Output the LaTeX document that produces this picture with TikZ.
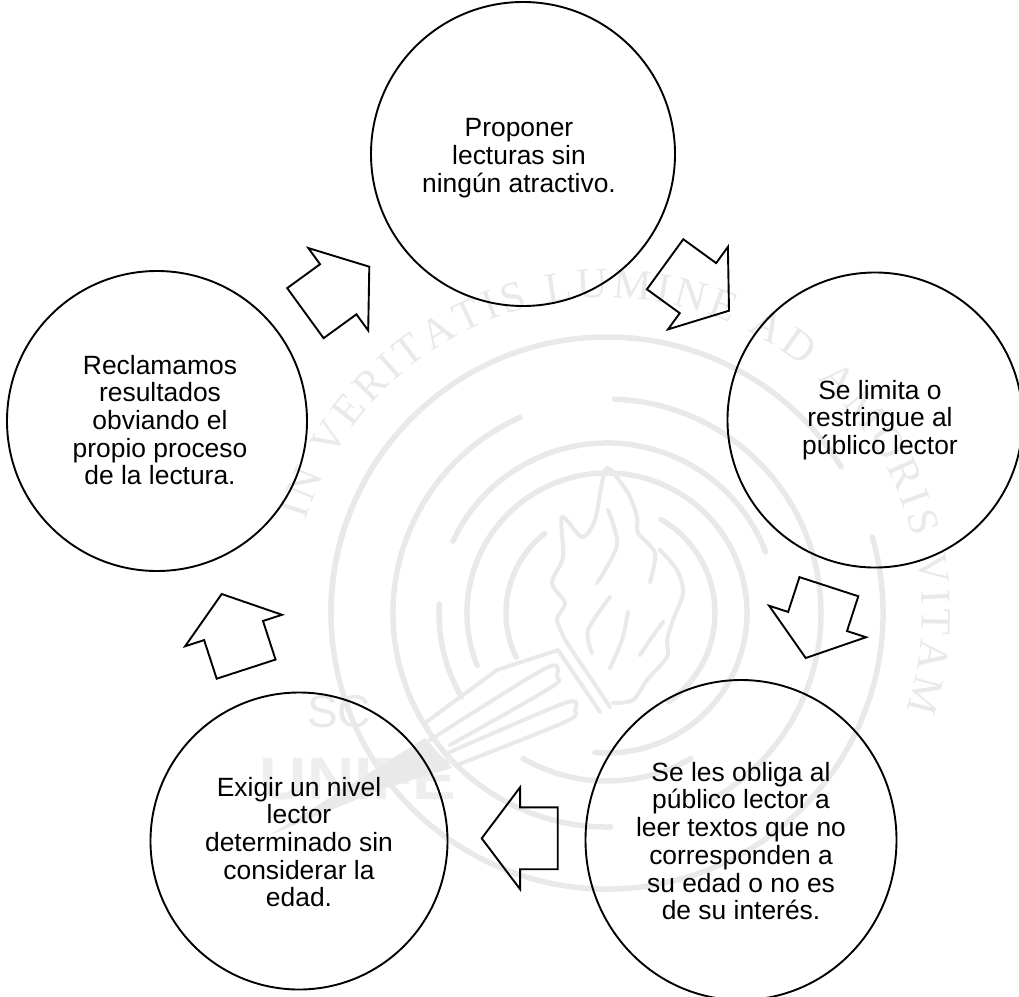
\documentclass[tikz,border=0pt]{standalone}
\usepackage{fontspec}
\setmainfont{Liberation Sans}
\newfontfamily\sealfont{Liberation Serif}
\usetikzlibrary{shapes.arrows,shapes.geometric}
\usetikzlibrary{decorations.text}
\definecolor{sealgray}{HTML}{E9E9E9}
\tikzset{
  stepcircle/.style={ellipse,draw=black,line width=1.9pt,inner sep=0pt,minimum width=#1,minimum height=#1},
  steptext/.style={align=center,font=\fontsize{26.4}{27.7}\selectfont,inner sep=0pt},
  blockarrow/.style={single arrow,draw=black,line width=1.9pt,inner xsep=0pt,inner ysep=30pt,outer sep=0pt,
    anchor=tip,minimum height=#1,single arrow head extend=20,single arrow tip angle=106},
  sealarc/.style={draw=sealgray,line width=5.5pt,line cap=round},
  sealline/.style={draw=sealgray,line width=4pt,line cap=round,line join=round}
}
\begin{document}
\begin{tikzpicture}[x=1pt,y=1pt]
\useasboundingbox (0,0) rectangle (1019,-996);
\begin{scope}
\clip (0,0) rectangle (1019,-996);
% seal in the background
\coordinate (sealc) at (607,-613);
\foreach \r/\a/\b in {276/181/32,276/16/-226,214/114/271,214/88/-62,170/155/21,140/202/-95,101/128/206,108/60/-55,168/177/210,168/240/300}{
\draw[sealarc] (sealc) ++(\a:\r) arc[start angle=\a,end angle=\b,radius=\r];
}
\path[decorate,decoration={text along path,text align=fit to path,
  text={|\sealfont\fontsize{43}{43}\selectfont\color{sealgray}|IN VERITATIS LUMINE AD AMORIS VITAM}}]
  (sealc) ++(163:315) arc[start angle=163,end angle=-18,radius=315];
\node[font=\fontsize{46}{46}\selectfont,text=sealgray,inner sep=0pt] (sealsc) at (339,-712) {SC};
\node[font=\fontsize{60}{60}\selectfont\bfseries,text=sealgray!75,inner sep=0pt,xscale=1.09] (sealname) at (358,-779) {UNIFE};
% flame
\draw[sealline] plot[smooth] coordinates {(567,-643) (557,-620) (565,-603) (552,-583) (563,-557) (562,-517) (582,-537) (595,-520) (602,-483) (608,-468) (628,-493) (637,-517) (638,-533) (655,-553) (650,-582)};
\draw[sealline] plot[smooth] coordinates {(660,-550) (677,-570) (683,-593) (673,-620) (667,-640) (667,-657) (647,-680) (633,-700) (613,-703)};
\draw[sealline] plot[smooth] coordinates {(608,-510) (617,-545) (597,-583)};
\draw[sealline] plot[smooth] coordinates {(610,-597) (588,-630) (592,-653)};
\draw[sealline] plot[smooth] coordinates {(628,-612) (622,-640) (610,-668)};
\draw[sealline] plot[smooth] coordinates {(663,-622) (650,-640) (640,-655)};
% torch
\draw[sealline] (567,-643) -- (610,-707) (558,-650) -- (600,-712);
\draw[sealline] (558,-650) -- (497,-670) -- (425,-723);
\draw[sealline] plot[smooth] coordinates {(430,-740) (546,-668) (557,-677) (550,-688) (450,-745)};
\draw[sealline] plot[smooth] coordinates {(450,-752) (565,-703) (575,-710) (565,-722) (457,-765)};
\fill[sealgray] (425,-738) -- (452,-768) -- (380,-790) -- (270,-835) -- cycle;
\end{scope}
% steps of the cycle
\node[stepcircle=304] (proponer) at (523,-154) {};
\node[stepcircle=295] (limita) at (875,-420) {};
\node[stepcircle=311,minimum height=320] (obliga) at (741,-840) {};
\node[stepcircle=297] (exigir) at (299,-841) {};
\node[stepcircle=300] (reclamamos) at (157,-421) {};
\node[steptext] (proponertext) at ([xshift=-4,yshift=-4]proponer.center) {Proponer\\lecturas sin\\ningún atractivo.};
\node[steptext] (limitatext) at ([xshift=5]limita.center) {Se limita o\\restringue al\\público lector};
\node[steptext] (obligatext) at ([yshift=-1]obliga.center) {Se les obliga al\\público lector a\\leer textos que no\\corresponden a\\su edad o no es\\de su interés.};
\node[steptext] (exigirtext) at ([yshift=-1]exigir.center) {Exigir un nivel\\lector\\determinado sin\\considerar la\\edad.};
\node[steptext] (reclamamostext) at ([xshift=3,yshift=1]reclamamos.center) {Reclamamos\\resultados\\obviando el\\propio proceso\\de la lectura.};
% block arrows, placed by their tips
\node[blockarrow=79,rotate=-36] (arrowa) at (729,-310.7) {};
\node[blockarrow=75,rotate=-108] (arrowb) at (805.7,-658) {};
\node[blockarrow=76,rotate=180] (arrowc) at (481.7,-838.3) {};
\node[blockarrow=79,rotate=108] (arrowd) at (221.7,-594) {};
\node[blockarrow=79,rotate=36] (arrowe) at (369.3,-266.7) {};
\end{tikzpicture}
\end{document}
